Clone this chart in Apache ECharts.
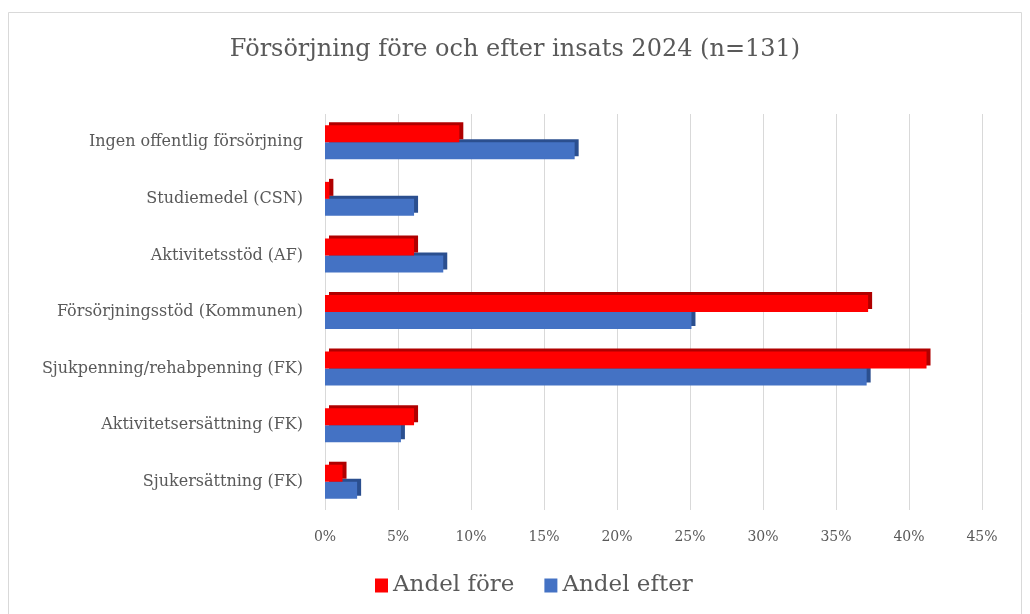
<!DOCTYPE html>
<html>
<head>
<meta charset="utf-8">
<title>Försörjning före och efter insats 2024</title>
<script src="https://cdn.jsdelivr.net/npm/echarts@6/dist/echarts.min.js"></script>
<style>
  html, body { margin: 0; padding: 0; background: #fff; }
  #chart { width: 1030px; height: 614px; }
</style>
</head>
<body>
<div id="chart"></div>
<script>
// categories, top to bottom
var categories = [
  'Ingen offentlig försörjning',
  'Studiemedel (CSN)',
  'Aktivitetsstöd (AF)',
  'Försörjningsstöd (Kommunen)',
  'Sjukpenning/rehabpenning (FK)',
  'Aktivitetsersättning (FK)',
  'Sjukersättning (FK)'
]
// percent values
var andelFore = [9.2, 0.3, 6.1, 37.2, 41.2, 6.1, 1.2]
var andelEfter = [17.1, 6.1, 8.1, 25.1, 37.1, 5.2, 2.2]
var xTicks = { min: 0, max: 45, interval: 5 }

var chart = echarts.init(document.getElementById('chart'))
var serif = '"DejaVu Serif", "Liberation Serif", serif'

chart.setOption({
  animation: false,
  backgroundColor: '#fff',
  graphic: [{
    type: 'rect',
    shape: { x: 8.5, y: 12.5, width: 1013, height: 610 },
    style: { fill: 'none', stroke: '#d9d9d9', lineWidth: 1 },
    silent: true
  }],
  title: {
    text: 'Försörjning före och efter insats 2024 (n=131)',
    left: 'center',
    top: 33,
    textStyle: {
      fontFamily: serif,
      fontWeight: 'normal',
      fontSize: 24,
      color: '#595959'
    }
  },
  legend: {
    data: ['Andel före', 'Andel efter'],
    bottom: 12,
    left: 370,
    itemWidth: 13,
    itemHeight: 14,
    itemGap: 30,
    icon: 'rect',
    textStyle: {
      fontFamily: serif,
      fontSize: 23,
      color: '#595959'
    }
  },
  grid: {
    left: 325,
    right: 48,
    top: 114,
    bottom: 104,
    containLabel: false
  },
  xAxis: {
    type: 'value',
    min: xTicks.min,
    max: xTicks.max,
    interval: xTicks.interval,
    axisLine: { show: false },
    axisTick: { show: false },
    splitLine: { lineStyle: { color: '#d9d9d9', width: 1 } },
    axisLabel: {
      formatter: '{value}%',
      margin: 20,
      fontFamily: serif,
      fontSize: 14,
      color: '#595959'
    }
  },
  yAxis: {
    type: 'category',
    inverse: true,
    data: categories,
    axisLine: { show: false },
    axisTick: { show: false },
    axisLabel: {
      margin: 22,
      fontFamily: serif,
      fontSize: 16,
      color: '#595959'
    }
  },
  series: [
    {
      name: 'Andel före',
      type: 'bar',
      data: andelFore,
      z: 3,
      barWidth: 17,
      barGap: '0%',
      itemStyle: {
        color: '#ff0000',
        shadowColor: '#b00000',
        shadowBlur: 0,
        shadowOffsetX: 4,
        shadowOffsetY: -3
      }
    },
    {
      name: 'Andel efter',
      type: 'bar',
      data: andelEfter,
      z: 2,
      barWidth: 17,
      barGap: '0%',
      itemStyle: {
        color: '#4472c4',
        shadowColor: '#2b4f8f',
        shadowBlur: 0,
        shadowOffsetX: 4,
        shadowOffsetY: -3
      }
    }
  ]
})
</script>
</body>
</html>
